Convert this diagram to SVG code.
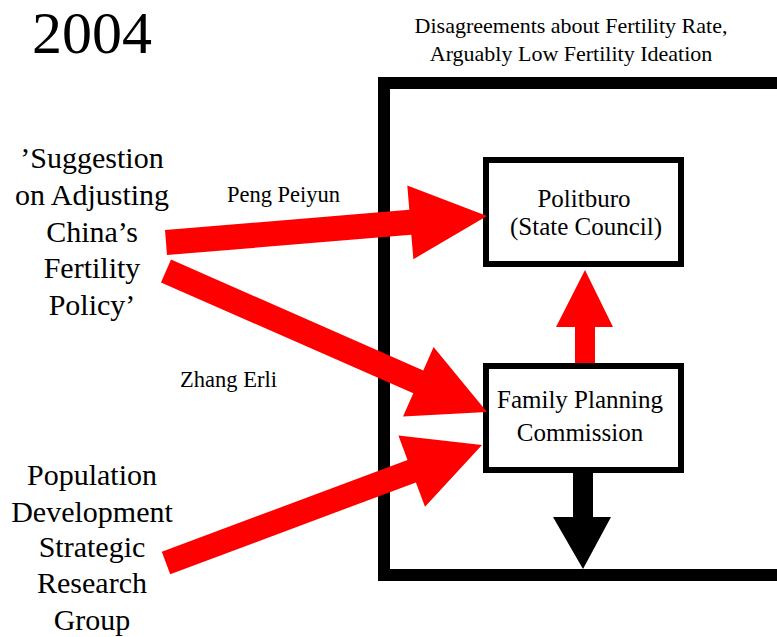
<svg xmlns="http://www.w3.org/2000/svg" width="777" height="637" viewBox="0 0 777 637">
<style>
text{font-family:"Liberation Serif","Times New Roman",serif;fill:#000}
.big{font-size:30px;text-anchor:middle}
.box{fill:#fff;stroke:#000;stroke-width:6}
.lbl{font-size:25px;text-anchor:middle}
.red{fill:#ff0000}
.name{font-size:22.5px;text-anchor:middle}
.ttl{font-size:22px;text-anchor:middle}
</style>
<rect width="777" height="637" fill="#fff"/>
<text x="32" y="53" style="font-size:60px">2004</text>
<g id="title">
<text class="ttl" x="571" y="33">Disagreements about Fertility Rate,</text>
<text class="ttl" x="571" y="61">Arguably Low Fertility Ideation</text>
</g>
<g id="frame"><rect x="384" y="83" width="430" height="492" fill="none" stroke="#000" stroke-width="12"/></g>
<g id="suggestion">
<text class="big" x="92" y="168">’Suggestion</text>
<text class="big" x="92" y="205">on Adjusting</text>
<text class="big" x="92" y="242">China’s</text>
<text class="big" x="92" y="278">Fertility</text>
<text class="big" x="92" y="315">Policy’</text>
</g>
<g id="group">
<text class="big" x="92" y="485">Population</text>
<text class="big" x="92" y="522">Development</text>
<text class="big" x="92" y="557">Strategic</text>
<text class="big" x="92" y="593">Research</text>
<text class="big" x="92" y="630">Group</text>
</g>
<g id="politburo">
<rect class="box" x="486" y="160" width="195" height="104"/>
<text class="lbl" x="584" y="207">Politburo</text>
<text class="lbl" x="586" y="235">(State Council)</text>
</g>
<g id="fpc">
<rect class="box" x="486" y="366" width="195" height="104"/>
<text class="lbl" x="580" y="408">Family Planning</text>
<text class="lbl" x="580" y="441">Commission</text>
</g>
<g id="connectors">
<polygon class="red" points="165,230 409.3,209.8 407.3,185.4 487,216 413.4,259.2 411.3,234.8 167,255"/>
<polygon class="red" points="171,259.6 423.3,370.4 433.6,347 487,412 403,416.6 413.3,393.3 161,282.5"/>
<polygon class="red" points="161.8,551.8 407.5,460 398.4,435.6 482,445 425,506.8 415.9,482.4 170.2,574.2"/>
<polygon class="red" points="575,363 575,327 556,327 585,270 613,327 595,327 595,363"/>
<polygon fill="#000" points="573,469 573,517 553,517 583,569 611,517 593,517 593,469"/>
<text class="name" x="283.5" y="202">Peng Peiyun</text>
<text class="name" x="228.5" y="387">Zhang Erli</text>
</g>
</svg>
